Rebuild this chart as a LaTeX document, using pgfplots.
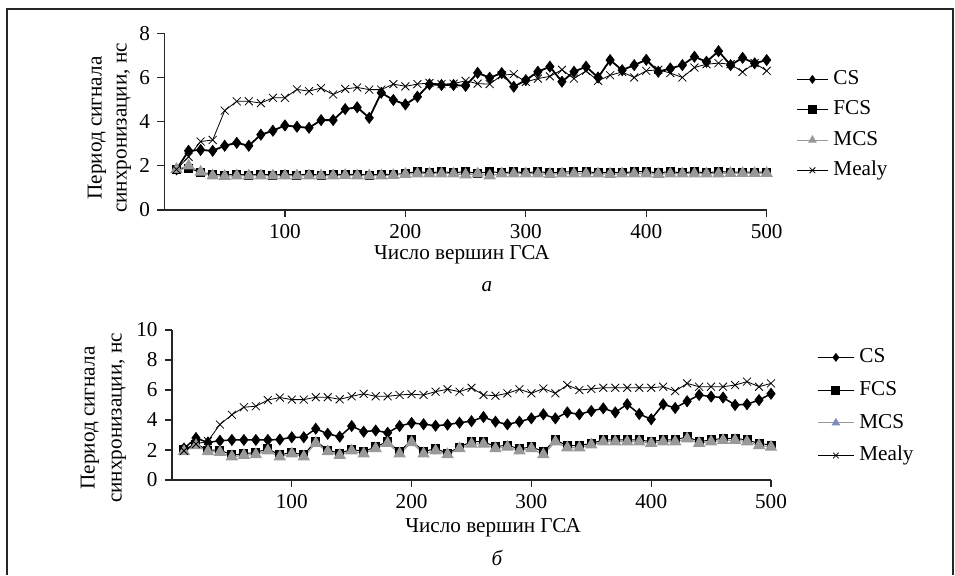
\documentclass[border=0pt]{standalone}
\usepackage{fontspec}
\setmainfont{Liberation Serif}
\usepackage{pgfplots}
\pgfplotsset{compat=1.18}
\definecolor{mcs}{gray}{0.6}
\definecolor{mcsblue}{RGB}{125,140,190}
\pgfplotsset{
  myaxis/.style={
    scale only axis, anchor=south west,
    xmin=0, xmax=500, xtick={100,200,300,400,500},
    axis x line=bottom, axis y line=left,
    axis line style={-, line width=0.6pt, black!85},
    tick align=outside, major tick length=3.5pt,
    tick style={black!85, line width=0.6pt},
    /pgf/number format/assume math mode=true,
    ticklabel style={font=\fontsize{10.6}{12}\selectfont},
    label style={font=\fontsize{10.6}{12}\selectfont},
    clip=false,
    legend cell align=left,
    legend style={draw=none, fill=none, inner sep=0pt, column sep=2pt,
      font=\fontsize{10.6}{12}\selectfont,
      nodes={inner sep=0.5pt, text height=7.2pt, text depth=2pt}},
  },
  cs/.style={black, line width=0.9pt, mark=diamond*, mark size=2.8pt, mark options={solid, line width=0.3pt}},
  fcs/.style={black, line width=0.5pt, mark=square*, mark size=2pt, mark options={solid}},
  mcsst/.style={mcs, line width=0.6pt, mark=triangle*, mark size=3pt, mark options={solid, draw=mcs, fill=mcs}},
  mealy/.style={black, line width=0.4pt, mark=x, mark size=2.8pt, mark options={solid, line width=0.4pt}},
}
\begin{document}
\fontsize{10.6}{12.5}\selectfont
\begin{tikzpicture}
\useasboundingbox (0pt,0pt) rectangle (477.5pt,-287.5pt);
\draw[line width=0.9pt, black!85] (3.5pt,-287.5pt) -- (3.5pt,-4.5pt) -- (476.5pt,-4.5pt) -- (476.5pt,-287.5pt);
% ---------- top chart
\begin{axis}[myaxis, at={(82.25pt,-105pt)}, width=301.1pt, height=88.35pt,
  ymin=0, ymax=8, ytick={0,2,4,6,8},
  xlabel={Число вершин ГСА},
  every axis x label/.style={at={(axis description cs:0.494,0)}, anchor=center, yshift=-22.5pt},
  legend style={at={(axis description cs:1.0487,0.799)}, anchor=north west, row sep=4.95pt},
  legend image code/.code={\draw[mark repeat=2,mark phase=2,line width=0.5pt,mark size=2pt] plot coordinates {(0pt,0pt) (7.75pt,0pt) (15.5pt,0pt)};},
]
\addplot[cs] coordinates {(10,1.84)(20,2.68)(30,2.72)(40,2.68)(50,2.91)(60,3.04)(70,2.91)(80,3.41)(90,3.59)(100,3.83)(110,3.77)(120,3.72)(130,4.07)(140,4.07)(150,4.57)(160,4.65)(170,4.17)(180,5.31)(190,4.98)(200,4.78)(210,5.13)(220,5.69)(230,5.66)(240,5.66)(250,5.62)(260,6.21)(270,5.99)(280,6.20)(290,5.58)(300,5.88)(310,6.26)(320,6.49)(330,5.81)(340,6.26)(350,6.49)(360,6.00)(370,6.79)(380,6.33)(390,6.56)(400,6.80)(410,6.26)(420,6.41)(430,6.56)(440,6.94)(450,6.71)(460,7.19)(470,6.56)(480,6.89)(490,6.64)(500,6.79)};
\addlegendentry{CS}
\addplot[fcs] coordinates {(10,1.84)(20,1.90)(30,1.70)(40,1.62)(50,1.58)(60,1.62)(70,1.58)(80,1.62)(90,1.58)(100,1.62)(110,1.58)(120,1.62)(130,1.58)(140,1.62)(150,1.60)(160,1.62)(170,1.58)(180,1.62)(190,1.60)(200,1.66)(210,1.74)(220,1.68)(230,1.74)(240,1.68)(250,1.74)(260,1.66)(270,1.74)(280,1.68)(290,1.74)(300,1.68)(310,1.74)(320,1.68)(330,1.72)(340,1.74)(350,1.74)(360,1.68)(370,1.72)(380,1.68)(390,1.74)(400,1.74)(410,1.68)(420,1.74)(430,1.68)(440,1.74)(450,1.68)(460,1.74)(470,1.72)(480,1.72)(490,1.72)(500,1.72)};
\addlegendentry{FCS}
\addplot[mcsst] coordinates {(10,1.84)(20,2.00)(30,1.72)(40,1.55)(50,1.53)(60,1.55)(70,1.55)(80,1.55)(90,1.55)(100,1.55)(110,1.55)(120,1.55)(130,1.55)(140,1.55)(150,1.57)(160,1.55)(170,1.55)(180,1.55)(190,1.57)(200,1.62)(210,1.64)(220,1.64)(230,1.64)(240,1.64)(250,1.60)(260,1.64)(270,1.55)(280,1.64)(290,1.64)(300,1.64)(310,1.64)(320,1.62)(330,1.64)(340,1.64)(350,1.64)(360,1.64)(370,1.62)(380,1.64)(390,1.64)(400,1.64)(410,1.62)(420,1.64)(430,1.64)(440,1.64)(450,1.64)(460,1.64)(470,1.66)(480,1.66)(490,1.66)(500,1.66)};
\addlegendentry{MCS}
\addplot[mealy] coordinates {(10,1.84)(20,2.41)(30,3.10)(40,3.17)(50,4.50)(60,4.92)(70,4.92)(80,4.84)(90,5.08)(100,5.08)(110,5.46)(120,5.38)(130,5.52)(140,5.23)(150,5.48)(160,5.55)(170,5.45)(180,5.45)(190,5.70)(200,5.60)(210,5.70)(220,5.75)(230,5.70)(240,5.72)(250,5.85)(260,5.72)(270,5.70)(280,6.10)(290,6.15)(300,5.80)(310,5.95)(320,6.05)(330,6.35)(340,5.95)(350,6.30)(360,5.85)(370,6.10)(380,6.25)(390,6.00)(400,6.30)(410,6.35)(420,6.20)(430,6.00)(440,6.45)(450,6.60)(460,6.65)(470,6.60)(480,6.25)(490,6.65)(500,6.30)};
\addlegendentry{Mealy}
\end{axis}
\node[rotate=90, align=center, font=\fontsize{10.6}{12.5}\selectfont] at (54.75pt,-64pt) {Период сигнала\\синхронизации, нс};
\node[font=\fontsize{10.6}{12}\selectfont\itshape] at (243.5pt,-143.5pt) {а};
% ---------- bottom chart
\begin{axis}[myaxis, at={(86pt,-240pt)}, width=299.5pt, height=75pt,
  ymin=0, ymax=10, ytick={0,2,4,6,8,10},
  xlabel={Число вершин ГСА},
  every axis x label/.style={at={(axis description cs:0.536,0)}, anchor=center, yshift=-23.7pt},
  legend style={at={(axis description cs:1.0768,0.888)}, anchor=north west, row sep=6.15pt},
  legend image code/.code={\draw[mark repeat=2,mark phase=2,line width=0.5pt,mark size=2pt] plot coordinates {(0pt,0pt) (9pt,0pt) (18pt,0pt)};},
]
\addplot[cs, line width=0.75pt] coordinates {(10,2.10)(20,2.80)(30,2.50)(40,2.62)(50,2.67)(60,2.67)(70,2.67)(80,2.67)(90,2.70)(100,2.85)(110,2.85)(120,3.42)(130,3.08)(140,2.89)(150,3.60)(160,3.22)(170,3.30)(180,3.15)(190,3.60)(200,3.80)(210,3.72)(220,3.62)(230,3.69)(240,3.82)(250,3.92)(260,4.20)(270,3.89)(280,3.71)(290,3.89)(300,4.11)(310,4.38)(320,4.11)(330,4.51)(340,4.38)(350,4.60)(360,4.78)(370,4.51)(380,5.05)(390,4.40)(400,4.05)(410,5.05)(420,4.80)(430,5.25)(440,5.67)(450,5.56)(460,5.50)(470,5.00)(480,5.05)(490,5.33)(500,5.75)};
\addlegendentry{CS}
\addplot[fcs] coordinates {(10,2.05)(20,2.40)(30,2.00)(40,2.00)(50,1.67)(60,1.75)(70,1.84)(80,2.07)(90,1.67)(100,1.85)(110,1.67)(120,2.60)(130,2.00)(140,1.78)(150,2.05)(160,1.89)(170,2.22)(180,2.56)(190,1.89)(200,2.67)(210,1.89)(220,2.10)(230,1.78)(240,2.20)(250,2.56)(260,2.56)(270,2.22)(280,2.33)(290,2.07)(300,2.22)(310,1.89)(320,2.67)(330,2.29)(340,2.29)(350,2.44)(360,2.67)(370,2.67)(380,2.67)(390,2.67)(400,2.56)(410,2.67)(420,2.67)(430,2.89)(440,2.56)(450,2.67)(460,2.78)(470,2.78)(480,2.67)(490,2.44)(500,2.33)};
\addlegendentry{FCS}
\addplot[mcsst, forget plot] coordinates {(10,1.90)(20,2.30)(30,1.90)(40,1.85)(50,1.55)(60,1.65)(70,1.70)(80,1.95)(90,1.55)(100,1.75)(110,1.55)(120,2.45)(130,1.90)(140,1.65)(150,1.95)(160,1.75)(170,2.10)(180,2.45)(190,1.75)(200,2.50)(210,1.75)(220,1.95)(230,1.70)(240,2.10)(250,2.40)(260,2.40)(270,2.10)(280,2.20)(290,1.95)(300,2.10)(310,1.70)(320,2.55)(330,2.15)(340,2.15)(350,2.35)(360,2.55)(370,2.55)(380,2.55)(390,2.55)(400,2.45)(410,2.55)(420,2.55)(430,2.75)(440,2.45)(450,2.55)(460,2.65)(470,2.65)(480,2.55)(490,2.30)(500,2.20)};
\addlegendimage{mcsst, mark options={draw=mcsblue, fill=mcsblue}}
\addlegendentry{MCS}
\addplot[mealy] coordinates {(10,1.95)(20,2.40)(30,2.60)(40,3.70)(50,4.35)(60,4.85)(70,4.92)(80,5.33)(90,5.50)(100,5.36)(110,5.36)(120,5.52)(130,5.52)(140,5.38)(150,5.58)(160,5.75)(170,5.58)(180,5.58)(190,5.67)(200,5.72)(210,5.67)(220,5.89)(230,6.05)(240,5.89)(250,6.15)(260,5.67)(270,5.62)(280,5.78)(290,6.05)(300,5.78)(310,6.10)(320,5.78)(330,6.33)(340,6.00)(350,6.07)(360,6.15)(370,6.15)(380,6.15)(390,6.15)(400,6.15)(410,6.22)(420,5.93)(430,6.44)(440,6.22)(450,6.22)(460,6.22)(470,6.33)(480,6.56)(490,6.22)(500,6.44)};
\addlegendentry{Mealy}
\end{axis}
\node[rotate=90, align=center, font=\fontsize{10.6}{13.5}\selectfont] at (51.75pt,-209pt) {Период сигнала\\синхронизации, нс};
\node[font=\fontsize{10.6}{12}\selectfont\itshape] at (248.5pt,-279pt) {б};
\end{tikzpicture}
\end{document}
